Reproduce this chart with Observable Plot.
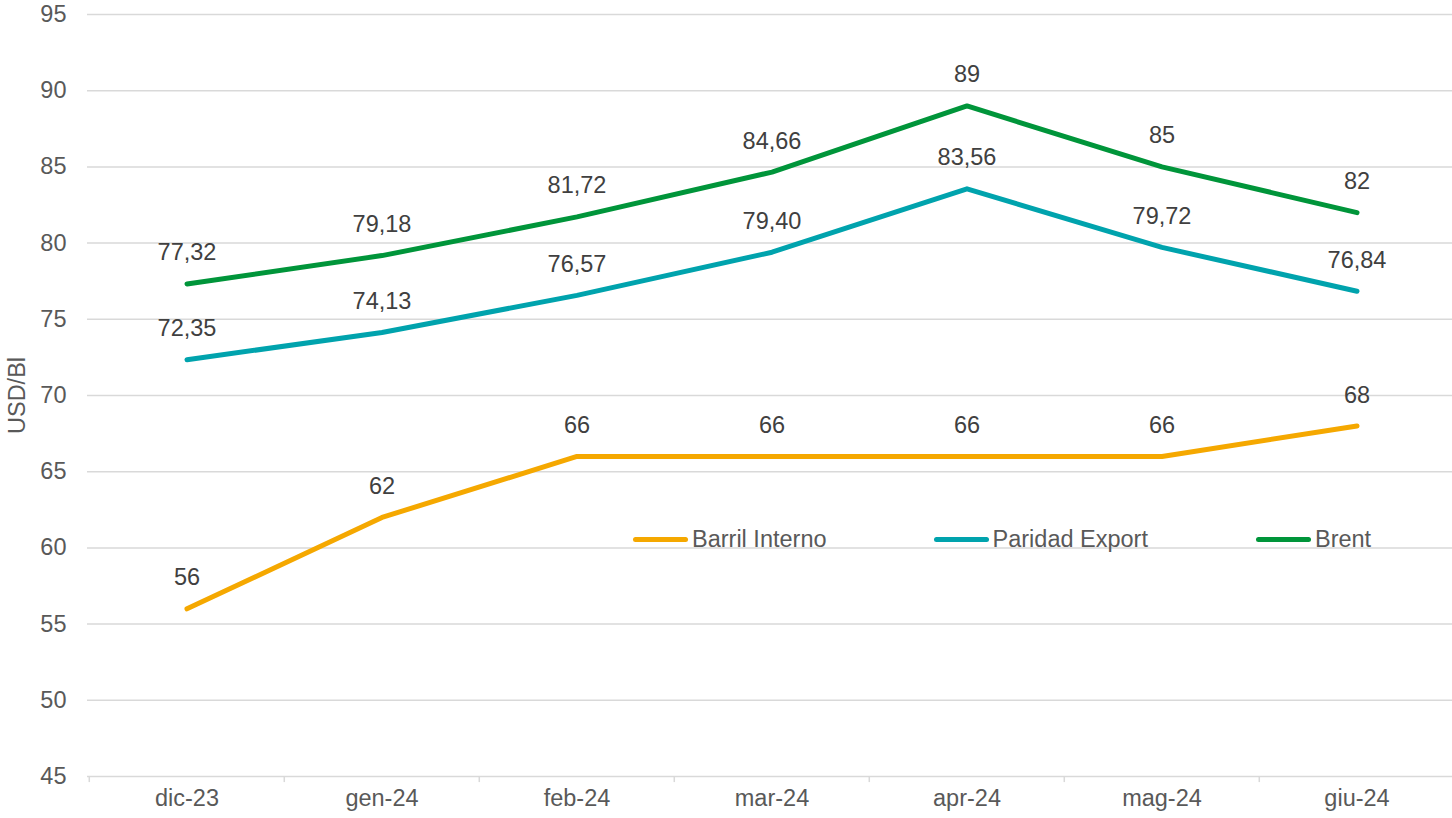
<!DOCTYPE html>
<html>
<head>
<meta charset="utf-8">
<script src="https://cdn.jsdelivr.net/npm/d3@7"></script>
<script src="https://cdn.jsdelivr.net/npm/@observablehq/plot@0.6"></script>
<style>
  html, body { margin: 0; padding: 0; background: #fff; }
  #wrap { position: relative; width: 1452px; height: 818px; overflow: hidden; font-family: "Liberation Sans", Arial, sans-serif; }
  #legend { position: absolute; left: 633px; top: 526px; display: flex; font-size: 23.5px; color: #595959; }
  .item { display: flex; align-items: center; }
  .sw { width: 55px; height: 5px; border-radius: 3px; margin-right: 4px; }
</style>
</head>
<body>
<div id="wrap"></div>
<script>
const months = ["dic-23", "gen-24", "feb-24", "mar-24", "apr-24", "mag-24", "giu-24"];
const barrilInterno = [56, 62, 66, 66, 66, 66, 68];
const paridadExport = [72.35, 74.13, 76.57, 79.40, 83.56, 79.72, 76.84];
const brent = [77.32, 79.18, 81.72, 84.66, 89, 85, 82];
const seriesNames = ["Barril Interno", "Paridad Export", "Brent"];
const seriesColors = ["#F5A800", "#00A3AD", "#00953A"];
const yTicks = [45, 50, 55, 60, 65, 70, 75, 80, 85, 90, 95];

const seriesValues = [barrilInterno, paridadExport, brent];
const data = [];
seriesValues.forEach((vals, s) => vals.forEach((v, i) => data.push({series: seriesNames[s], month: months[i], value: v})));

const fmt = v => Number.isInteger(v) ? String(v) : v.toFixed(2).replace(".", ",");

const W = 1452, H = 818, mL = 87, mR = -3;
const bw = (W - mL - mR) / months.length;
const FS = 23.5;

const chart = Plot.plot({
  width: W, height: H,
  marginLeft: mL, marginRight: mR, marginTop: 14, marginBottom: 42,
  style: {fontFamily: "'Liberation Sans', Arial, sans-serif", fontSize: FS + "px", color: "#595959", background: "#fff", overflow: "visible"},
  x: {type: "band", domain: months, padding: 0, label: null},
  y: {domain: [45, 95], ticks: yTicks, label: null},
  color: {domain: seriesNames, range: seriesColors},
  marks: [
    Plot.ruleY(yTicks, {y: d => d, stroke: "#d9d9d9", strokeWidth: 1.5}),
    Plot.ruleX(months, {x: d => d, dx: -bw / 2, y1: 45, y2: 45 - 0.4, stroke: "#d9d9d9", strokeWidth: 1.5}),
    Plot.axisY({ticks: yTicks, tickSize: 0, tickPadding: 21, fontSize: FS, fill: "#595959", label: null}),
    Plot.axisX({tickSize: 0, tickPadding: 13, fontSize: FS, fill: "#595959", label: null}),
    Plot.text(["USD/Bl"], {frameAnchor: "left", textAnchor: "middle", rotate: -90, dx: -70, fontSize: FS, fill: "#595959"}),
    Plot.line(data, {x: "month", y: "value", z: "series", stroke: "series", strokeWidth: 5, strokeLinecap: "round", strokeLinejoin: "round"}),
    Plot.text(data, {x: "month", y: "value", text: d => fmt(d.value), dy: -31, fontSize: FS, fill: "#404040"})
  ]
});
document.getElementById("wrap").appendChild(chart);

const legend = document.createElement("div");
legend.id = "legend";
const gaps = [0, 107, 108];
seriesNames.forEach((n, i) => {
  const it = document.createElement("div");
  it.className = "item";
  if (i > 0) it.style.marginLeft = gaps[i] + "px";
  const sw = document.createElement("div");
  sw.className = "sw";
  sw.style.background = seriesColors[i];
  const t = document.createElement("span");
  t.textContent = n;
  it.appendChild(sw); it.appendChild(t);
  legend.appendChild(it);
});
document.getElementById("wrap").appendChild(legend);
</script>
</body>
</html>
